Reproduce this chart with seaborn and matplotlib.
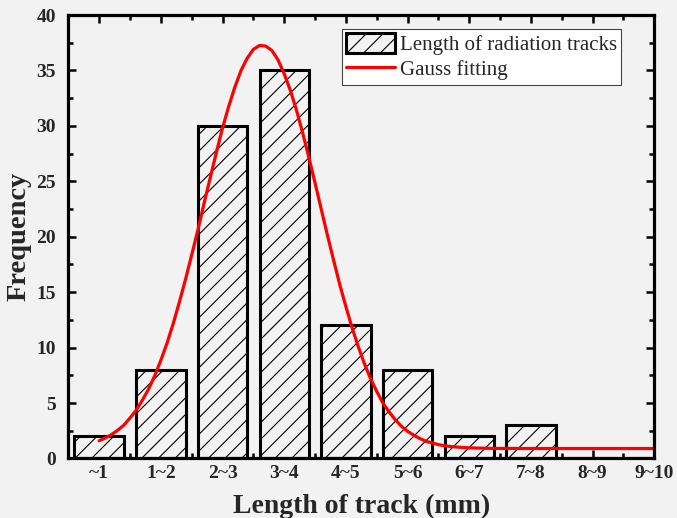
import matplotlib
matplotlib.use("Agg")
import matplotlib.pyplot as plt
import seaborn as sns
import pandas as pd
from matplotlib.patches import Patch
from matplotlib.lines import Line2D
from matplotlib.ticker import MultipleLocator, FixedLocator

categories = ["~1", "1~2", "2~3", "3~4", "4~5", "5~6", "6~7", "7~8", "8~9", "9~10"]
counts = [2, 8, 30, 35, 12, 8, 2, 3, 0, 0]

# Gauss fitting curve (x in category units)
fit_x = [0.0, 0.1, 0.2, 0.3, 0.4, 0.5, 0.6, 0.7, 0.8, 0.9, 1.0, 1.1, 1.2, 1.3,
         1.4, 1.5, 1.6, 1.7, 1.8, 1.9, 2.0, 2.1, 2.2, 2.3, 2.4, 2.5, 2.6, 2.7,
         2.8, 2.9, 3.0, 3.1, 3.2, 3.3, 3.4, 3.5, 3.6, 3.7, 3.8, 3.9, 4.0, 4.1,
         4.2, 4.3, 4.4, 4.5, 4.6, 4.7, 4.8, 4.9, 5.0, 5.1, 5.2, 5.3, 5.4, 5.5,
         5.6, 5.7, 5.8, 5.9, 6.0, 6.2, 6.4, 7.0, 8.0, 9.0]
fit_y = [1.6, 1.85, 2.15, 2.55, 3.0, 3.65, 4.35, 5.25, 6.25, 7.45, 8.85, 10.4,
         12.15, 14.1, 16.15, 18.35, 20.6, 23.0, 25.3, 27.6, 29.8, 31.75, 33.5,
         35.0, 36.1, 36.9, 37.25, 37.2, 36.8, 35.95, 34.7, 33.2, 31.4, 29.35,
         27.15, 24.85, 22.5, 20.15, 17.9, 15.7, 13.7, 11.8, 10.1, 8.55, 7.2,
         6.05, 5.0, 4.2, 3.5, 2.9, 2.45, 2.1, 1.8, 1.55, 1.4, 1.25, 1.15, 1.08,
         1.03, 0.99, 0.96, 0.93, 0.91, 0.9, 0.9, 0.9]

sns.set_theme(style="ticks")
plt.rcParams["font.family"] = ["Liberation Serif", "DejaVu Serif"]
plt.rcParams["hatch.linewidth"] = 0.8

bg = "#f2f2f2"
fig = plt.figure(figsize=(6.77, 5.18), dpi=100, facecolor=bg)
ax = fig.add_axes([0.1009, 0.1149, 0.8656, 0.8561])
ax.set_facecolor(bg)

df = pd.DataFrame({"cat": categories, "count": counts})
sns.barplot(data=df, x="cat", y="count", ax=ax, color=bg, width=0.8,
            edgecolor="black", linewidth=2.2, saturation=1)
for p in ax.patches:
    p.set_facecolor(bg)
    p.set_hatch("//")

sns.lineplot(x=fit_x, y=fit_y, ax=ax, color="red", linewidth=2.3, sort=False)

ax.set_xlim(-0.5, 9.0)
ax.set_ylim(0, 40)
ax.yaxis.set_major_locator(MultipleLocator(5))
ax.yaxis.set_minor_locator(MultipleLocator(2.5))
ax.xaxis.set_minor_locator(FixedLocator([i + 0.5 for i in range(-1, 9)]))

for s in ax.spines.values():
    s.set_visible(True)
    s.set_linewidth(2.3)
    s.set_color("black")

ax.tick_params(which="both", direction="in", top=True, right=True, width=1.8, color="black")
ax.tick_params(which="major", length=6)
ax.tick_params(which="minor", length=3.5)
ax.tick_params(axis="both", which="major", labelsize=14)
ax.tick_params(axis="x", which="major", pad=5)
ax.tick_params(axis="y", which="major", pad=9)
for lab in ax.get_xticklabels() + ax.get_yticklabels():
    lab.set_fontweight("bold")

ax.set_xlabel("Length of track (mm)", fontsize=20, fontweight="bold", labelpad=8)
ax.set_ylabel("Frequency", fontsize=20.5, fontweight="bold", labelpad=3)

handles = [Patch(facecolor=bg, edgecolor="black", hatch="//", linewidth=2.2),
           Line2D([0], [0], color="red", linewidth=2.3)]
leg = ax.legend(handles, ["Length of radiation tracks", "Gauss fitting"],
                loc="upper right", bbox_to_anchor=(0.951, 0.978),
                fontsize=15, frameon=True, fancybox=False, framealpha=1,
                edgecolor="#444444", handlelength=2.35, handleheight=1.1,
                borderpad=0.2, labelspacing=0.15, handletextpad=0.25,
                borderaxespad=0.2)
leg.get_frame().set_linewidth(0.8)

fig.savefig("out.png", dpi=100, facecolor=bg)
